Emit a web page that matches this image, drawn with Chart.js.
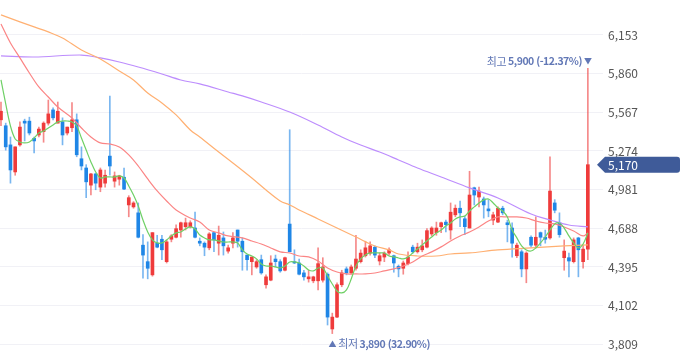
<!DOCTYPE html>
<html lang="ko">
<head>
<meta charset="UTF-8">
<title>주가 차트</title>
<script src="https://cdn.jsdelivr.net/npm/chart.js"></script>
<style>
  html, body { margin: 0; padding: 0; background: #fff; }
  #wrap { width: 680px; height: 358px; position: relative; }
</style>
</head>
<body>
<div id="wrap"><canvas id="stockChart"></canvas></div>
<script>
// 일봉 시가 / 고가 / 저가 / 종가
const opens = [5510,5465,5320,5115,5320,5500,5500,5370,5395,5420,5485,5585,5485,5495,5410,5450,5510,5215,5145,5015,
  5100,5000,5030,5235,5045,5060,5075,4865,4850,4805,4560,4435,4335,4575,4605,4435,4605,4620,4675,4700,
  4700,4690,4590,4575,4540,4655,4575,4615,4515,4575,4675,4590,4485,4435,4395,4450,4260,4295,4455,4435,
  4370,4720,4435,4425,4350,4305,4290,4290,4295,4340,3925,4015,4260,4380,4350,4385,4435,4480,4500,4545,
  4440,4470,4500,4480,4400,4385,4420,4545,4510,4525,4545,4645,4655,4700,4735,4675,4790,4840,4760,4690,
  4995,4925,4910,4835,4750,4735,4840,4730,4690,4480,4510,4380,4620,4560,4655,4620,4615,4880,4730,4465,
  4465,4435,4615,4435,4530];
const highs = [5645,5485,5380,5305,5495,5515,5530,5380,5455,5495,5660,5600,5645,5525,5455,5640,5555,5305,5170,5105,
  5105,5145,5130,5690,5115,5090,5145,4935,4890,4880,4640,4585,4655,4635,4635,4600,4640,4715,4735,4765,
  4745,4810,4615,4585,4655,4655,4705,4660,4560,4655,4675,4615,4485,4470,4450,4485,4335,4480,4485,4450,
  4470,5435,4525,4455,4370,4370,4325,4540,4465,4350,4045,4275,4370,4395,4410,4635,4525,4590,4585,4555,
  4500,4510,4540,4485,4410,4440,4510,4560,4575,4600,4685,4700,4735,4735,4750,4880,4865,4895,4780,5120,
  5000,5000,4925,4905,4810,4850,4855,4750,4730,4575,4525,4510,4630,4775,4660,4675,5230,4905,4805,4600,
  4500,4615,4620,4560,5900];
const lows = [5465,5280,5030,5090,5310,5350,5395,5260,5380,5340,5470,5510,5485,5320,5395,5420,5230,5130,4920,4940,
  4980,4965,5000,5090,5000,5015,4980,4775,4840,4615,4310,4305,4325,4540,4450,4425,4585,4615,4620,4675,
  4690,4615,4555,4480,4525,4510,4485,4485,4500,4540,4545,4370,4370,4335,4385,4340,4235,4290,4395,4355,
  4365,4510,4420,4335,4295,4280,4275,4220,4280,3955,3890,4010,4245,4335,4340,4370,4425,4470,4485,4465,
  4410,4435,4485,4355,4320,4340,4410,4500,4500,4510,4540,4630,4635,4655,4660,4605,4775,4700,4640,4690,
  4865,4850,4765,4775,4715,4730,4790,4585,4470,4465,4320,4275,4545,4540,4555,4575,4605,4805,4620,4370,
  4320,4425,4320,4385,4450];
const closes = [5575,5305,5130,5305,5455,5485,5410,5350,5440,5485,5555,5525,5575,5395,5455,5510,5245,5160,5040,5100,
  5030,5130,5090,5160,5085,5085,4985,4920,4880,4620,4485,4385,4655,4545,4525,4585,4630,4685,4730,4730,
  4730,4620,4575,4545,4645,4600,4635,4555,4540,4615,4590,4510,4450,4470,4435,4350,4320,4425,4435,4365,
  4465,4510,4425,4340,4320,4320,4320,4420,4395,4015,4015,4260,4350,4350,4395,4455,4500,4540,4555,4485,
  4480,4500,4525,4425,4380,4425,4470,4510,4545,4555,4670,4690,4690,4730,4715,4810,4840,4805,4700,4940,
  4940,4970,4865,4820,4790,4840,4805,4715,4575,4560,4380,4500,4560,4620,4620,4605,4970,4825,4640,4515,
  4440,4600,4525,4530,5170];

// 이동평균선
const ma5 = [5812,5630,5463,5365,5342,5335,5342,5372,5410,5425,5448,5471,5494,5501,5501,5494,5463,5372,5281,5191,
  5115,5069,5077,5077,5077,5085,5069,5009,4940,4857,4751,4660,4600,4577,4577,4600,4630,4653,4660,4683,
  4698,4683,4637,4615,4600,4600,4592,4584,4584,4584,4577,4524,4493,4478,4456,4418,4402,4402,4395,4387,
  4402,4433,4433,4425,4402,4372,4365,4387,4387,4327,4266,4213,4198,4221,4304,4402,4456,4486,4501,4501,
  4501,4501,4478,4471,4463,4456,4471,4501,4531,4562,4592,4622,4653,4675,4706,4728,4759,4774,4781,4819,
  4850,4880,4903,4910,4880,4842,4819,4774,4675,4615,4554,4524,4516,4539,4577,4622,4675,4721,4728,4690,
  4630,4577,4539,4569,4653];
// [봉 번호, 값]
const ma20 = [[0,6236],[2,6092],[4,5979],[6,5865],[8,5759],[10,5683],[12,5607],[15,5524],[17,5448],[19,5380],
  [21,5335],[23,5327],[25,5304],[27,5244],[29,5160],[31,5062],[33,4971],[35,4895],[37,4827],[40,4766],
  [42,4736],[44,4675],[46,4653],[48,4630],[51,4615],[53,4592],[55,4569],[57,4539],[59,4509],[61,4501],
  [63,4478],[65,4471],[67,4440],[69,4387],[71,4357],[73,4342],[75,4342],[77,4342],[79,4349],[81,4365],
  [83,4380],[85,4402],[87,4433],[89,4478],[91,4509],[93,4547],[95,4592],[97,4630],[99,4660],[101,4698],
  [103,4743],[105,4774],[107,4774],[109,4774],[111,4766],[113,4743],[115,4728],[117,4721],[119,4698],[121,4668],
  [123,4630],[124,4653]];
const ma60 = [[0,6305],[4,6252],[7,6214],[10,6176],[13,6130],[17,6039],[21,5971],[25,5880],[28,5812],[31,5713],
  [34,5638],[37,5547],[40,5433],[42,5380],[46,5266],[49,5183],[53,5069],[56,4978],[59,4895],[61,4865],
  [63,4827],[67,4759],[71,4690],[75,4622],[79,4554],[82,4524],[84,4493],[88,4478],[92,4478],[95,4493],
  [99,4501],[105,4524],[112,4539],[119,4554],[124,4562]];
const ma120 = [[0,5994],[7,5986],[17,6001],[21,5979],[25,5948],[29,5910],[34,5857],[38,5812],[42,5782],[48,5721],
  [51,5691],[55,5645],[61,5569],[67,5471],[72,5380],[76,5319],[80,5266],[84,5206],[88,5145],[93,5077],
  [99,4994],[105,4918],[112,4796],[116,4751],[120,4713],[124,4698]];

const yTicks = [3809, 4102, 4395, 4688, 4981, 5274, 5567, 5860, 6153];

const UP = '#ef3b3b', DOWN = '#1f86e6';
const UP_WICK = 'rgba(239,59,59,0.6)', DOWN_WICK = 'rgba(31,134,230,0.6)';
const MARK = '#6278b6';
const FONT = '"Noto Sans CJK KR", "Noto Sans", sans-serif';

const isUp = closes.map((c, i) => c >= opens[i]);
const fmt = v => v.toLocaleString('en-US');

function maLine(label, pts, color) {
  return {
    type: 'line', label: label, data: pts, borderColor: color, borderWidth: 1.2,
    pointRadius: 0, tension: 0.35, fill: false, order: 1
  };
}

// 최고/최저 표시와 현재가 태그
const markers = {
  id: 'markers',
  afterDraw(chart) {
    const { ctx, chartArea, scales: { x, y } } = chart;
    const last = closes[closes.length - 1];
    const hi = Math.max(...highs), hiIdx = highs.indexOf(hi);
    const lo = Math.min(...lows), loIdx = lows.indexOf(lo);
    const hiPct = ((last - hi) / hi * 100).toFixed(2);
    const loPct = ((last - lo) / lo * 100).toFixed(2);

    ctx.save();
    ctx.textBaseline = 'middle';
    ctx.fillStyle = MARK;
    ctx.letterSpacing = '-0.5px';

    const normal = '11px ' + FONT, bold = 'bold 10.5px ' + FONT;
    function parts(list, x0, yy) {
      let xx = x0;
      list.forEach(p => {
        ctx.font = p[1] ? bold : normal;
        ctx.textAlign = 'left';
        ctx.fillText(p[0], xx, yy);
        xx += ctx.measureText(p[0]).width;
      });
    }
    function width(list) {
      return list.reduce((w, p) => { ctx.font = p[1] ? bold : normal; return w + ctx.measureText(p[0]).width; }, 0);
    }

    // 최고
    let px = x.getPixelForValue(hiIdx), py = y.getPixelForValue(hi) - 7;
    const hiText = [['최고 ', false], [fmt(hi) + ' (' + hiPct + '%)', true]];
    ctx.font = '8px ' + FONT; ctx.textAlign = 'center';
    ctx.fillText('▼', px, py);
    parts(hiText, px - 6 - width(hiText), py);

    // 최저
    px = x.getPixelForValue(loIdx); py = y.getPixelForValue(lo) + 10;
    ctx.font = '8px ' + FONT; ctx.textAlign = 'center';
    ctx.fillText('▲', px, py);
    parts([['최저 ', false], [fmt(lo) + ' (' + loPct + '%)', true]], px + 6, py);

    // 현재가 태그
    ctx.letterSpacing = '0px';
    const ty = y.getPixelForValue(last);
    const tip = chartArea.right - 6, h = 8, r = 3, right = chart.width;
    ctx.fillStyle = '#3f5b99';
    ctx.beginPath();
    ctx.moveTo(tip, ty);
    ctx.lineTo(tip + 8, ty - h);
    ctx.lineTo(right - r, ty - h);
    ctx.quadraticCurveTo(right, ty - h, right, ty - h + r);
    ctx.lineTo(right, ty + h - r);
    ctx.quadraticCurveTo(right, ty + h, right - r, ty + h);
    ctx.lineTo(tip + 8, ty + h);
    ctx.closePath();
    ctx.fill();
    ctx.fillStyle = '#fff';
    ctx.font = '12px ' + FONT;
    ctx.textAlign = 'left';
    ctx.fillText(fmt(last), chartArea.right + 5, ty + 0.5);
    ctx.restore();
  }
};

new Chart(document.getElementById('stockChart'), {
  type: 'bar',
  data: {
    datasets: [
      maLine('MA5', ma5.map((v, i) => ({ x: i, y: v })), '#6fd066'),
      maLine('MA20', ma20.map(p => ({ x: p[0], y: p[1] })), '#fb8585'),
      maLine('MA60', ma60.map(p => ({ x: p[0], y: p[1] })), '#ffb072'),
      maLine('MA120', ma120.map(p => ({ x: p[0], y: p[1] })), '#bd8dfd'),
      {
        type: 'bar', label: '몸통', order: 5, grouped: false, barThickness: 3, minBarLength: 1,
        data: closes.map((c, i) => ({ x: i, y: [opens[i], c] })),
        backgroundColor: isUp.map(u => u ? UP : DOWN)
      },
      {
        type: 'bar', label: '꼬리', order: 6, grouped: false, barThickness: 1,
        data: highs.map((h, i) => ({ x: i, y: [lows[i], h] })),
        backgroundColor: isUp.map(u => u ? UP_WICK : DOWN_WICK)
      }
    ]
  },
  options: {
    responsive: true,
    maintainAspectRatio: false,
    animation: false,
    devicePixelRatio: 1,
    layout: { padding: 0 },
    plugins: { legend: { display: false }, tooltip: { enabled: false } },
    scales: {
      x: { type: 'linear', display: false, offset: false, min: -0.21, max: 127.2 },
      y: {
        position: 'right', min: 3705, max: 6418,
        afterBuildTicks: s => { s.ticks = yTicks.map(v => ({ value: v })); },
        afterFit: s => { s.width = 77; s.paddingTop = 0; s.paddingBottom = 0; },
        border: { display: false },
        grid: { color: '#f1f1f6', drawTicks: false },
        ticks: { autoSkip: false, padding: 5, color: '#555', font: { size: 12, family: FONT }, callback: v => fmt(v) }
      }
    }
  },
  plugins: [markers]
});
</script>
</body>
</html>
